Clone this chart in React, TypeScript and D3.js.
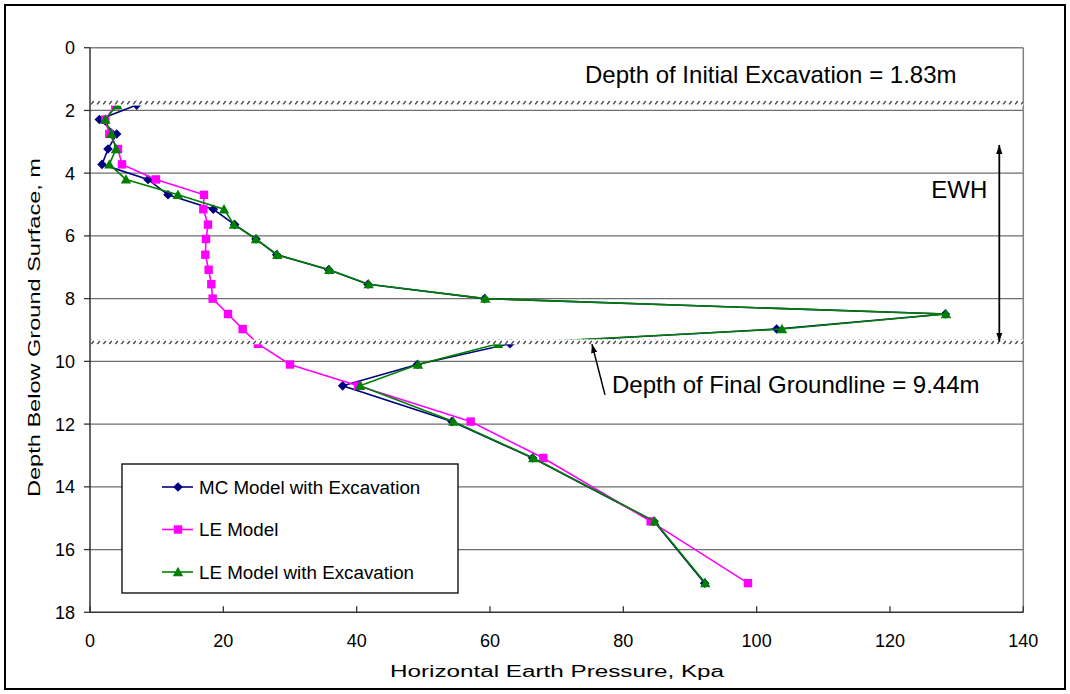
import React from "react";
import * as d3 from "d3";

const depths = [1.83, 2.29, 2.75, 3.23, 3.72, 4.2, 4.69, 5.15, 5.64, 6.1, 6.6, 7.08, 7.54, 8.0, 8.49, 8.97, 9.44, 10.1, 10.78, 11.92, 13.08, 15.1, 17.07];
const mcValues = [7.0, 1.4, 4.0, 2.7, 1.8, 8.7, 11.7, 18.5, 21.7, 24.9, 28.0, 35.8, 41.7, 59.2, 128.3, 103.0, 63.0, 49.1, 37.9, 54.3, 66.4, 84.6, 92.2];
const leValues = [3.8, 2.3, 2.9, 4.2, 4.8, 9.9, 17.1, 17.0, 17.7, 17.4, 17.3, 17.8, 18.2, 18.4, 20.7, 22.9, 25.2, 30.0, 40.2, 57.1, 68.0, 84.1, 98.7];
const leExcValues = [4.1, 2.3, 3.2, 3.9, 2.9, 5.4, 13.2, 20.1, 21.6, 24.9, 28.1, 35.9, 41.8, 59.3, 128.4, 103.8, 61.2, 49.2, 40.5, 54.5, 66.5, 84.7, 92.3];

const xTicks = [0, 20, 40, 60, 80, 100, 120, 140];
const yTicks = [0, 2, 4, 6, 8, 10, 12, 14, 16, 18];
const excavationDepths = [1.83, 9.44];
const seriesNames = ["MC Model with Excavation", "LE Model", "LE Model with Excavation"];

const W = 1070;
const H = 694;
const FONT = "'Liberation Sans', Arial, sans-serif";

const x = d3.scaleLinear().domain([0, 140]).range([90, 1023.3]);
const y = d3.scaleLinear().domain([0, 18]).range([47.7, 612.3]);

type Series = { name: string; values: number[]; color: string; marker: "diamond" | "square" | "triangle" };
const series: Series[] = [
  { name: seriesNames[0], values: mcValues, color: "#000080", marker: "diamond" },
  { name: seriesNames[1], values: leValues, color: "#FF00FF", marker: "square" },
  { name: seriesNames[2], values: leExcValues, color: "#008000", marker: "triangle" },
];

function Marker({ kind, cx, cy, color }: { kind: string; cx: number; cy: number; color: string }) {
  if (kind === "diamond") {
    const r = 4.8;
    return <path d={`M${cx},${cy - r}L${cx + r},${cy}L${cx},${cy + r}L${cx - r},${cy}Z`} fill={color} />;
  }
  if (kind === "square") {
    const r = 4.2;
    return <rect x={cx - r} y={cy - r} width={2 * r} height={2 * r} fill={color} />;
  }
  const r = 5.2;
  return <path d={`M${cx},${cy - r}L${cx + r},${cy + r * 0.8}L${cx - r},${cy + r * 0.8}Z`} fill={color} />;
}

export default function App() {
  const line = d3
    .line<[number, number]>()
    .x((d) => x(d[0]))
    .y((d) => y(d[1]));

  const x0 = x(0);
  const x1 = x(140);
  const y0 = y(0);
  const y1 = y(18);

  const legendX = 122;
  const legendY = 464;
  const legendW = 336;
  const legendH = 129;

  return (
    <svg
      width={W}
      height={H}
      style={{ position: "absolute", left: 0, top: 0, background: "#fff" }}
      fontFamily={FONT}
    >
      <defs>
        <pattern id="hatch" width="6" height="5" patternUnits="userSpaceOnUse">
          <rect width="6" height="5" fill="#fff" />
          <path d="M1.2,4.4L3.8,0.8" stroke="#444" strokeWidth="1.4" />
        </pattern>
        <marker id="arrowHead" viewBox="0 0 10 10" refX="10" refY="5" markerWidth="9" markerHeight="9" orient="auto-start-reverse" markerUnits="userSpaceOnUse">
          <path d="M0,1.5L10,5L0,8.5Z" fill="#000" />
        </marker>
      </defs>
      <rect x={0} y={0} width={W} height={H} fill="#fff" />
      <rect x={5} y={5} width={1060} height={684} fill="none" stroke="#000" strokeWidth={2} />

      {/* gridlines */}
      {yTicks.filter((t) => t > 0 && t < 18).map((t) => (
        <line key={"g" + t} x1={x0} x2={x1} y1={y(t)} y2={y(t)} stroke="#6e6e6e" strokeWidth={1.3} />
      ))}
      <line x1={x0} x2={x1} y1={y0} y2={y0} stroke="#808080" strokeWidth={1.5} />
      <line x1={x1} x2={x1} y1={y0} y2={y1} stroke="#808080" strokeWidth={1.5} />

      {/* axes */}
      <line x1={x0} x2={x0} y1={y0} y2={y1} stroke="#333" strokeWidth={1.5} />
      <line x1={x0} x2={x1} y1={y1} y2={y1} stroke="#333" strokeWidth={1.5} />
      {yTicks.map((t) => (
        <g key={"yt" + t}>
          <line x1={x0 - 6} x2={x0} y1={y(t)} y2={y(t)} stroke="#333" strokeWidth={1.3} />
          <text x={x0 - 15} y={y(t)} dy="0.36em" textAnchor="end" fontSize={18} fill="#000">
            {t}
          </text>
        </g>
      ))}
      {xTicks.map((t) => (
        <g key={"xt" + t}>
          <line x1={x(t)} x2={x(t)} y1={y1 - 6} y2={y1} stroke="#333" strokeWidth={1.3} />
          <text x={x(t)} y={y1 + 35} textAnchor="middle" fontSize={18} fill="#000">
            {t}
          </text>
        </g>
      ))}
      <text x={390} y={677} fontSize={16} fill="#000" textLength={334} lengthAdjust="spacingAndGlyphs">
        Horizontal Earth Pressure, Kpa
      </text>
      <text transform="translate(40,497) rotate(-90)" fontSize={16} fill="#000" textLength={339} lengthAdjust="spacingAndGlyphs">
        Depth Below Ground Surface, m
      </text>

      {/* series */}
      {series.map((s) => (
        <g key={s.name}>
          <path d={line(s.values.map((v, i) => [v, depths[i]] as [number, number])) || ""} fill="none" stroke={s.color} strokeWidth={1.6} />
          {s.values.map((v, i) => (
            <Marker key={i} kind={s.marker} cx={x(v)} cy={y(depths[i])} color={s.color} />
          ))}
        </g>
      ))}

      {/* hatched excavation bands */}
      {excavationDepths.map((d) => (
        <rect key={"b" + d} x={x0 + 1} y={y(d) - 4.5} width={x1 - x0 - 1} height={5} fill="url(#hatch)" />
      ))}

      {/* annotations */}
      <text x={x(74.25)} y={y(1.125)} fontSize={24} fill="#000">
        Depth of Initial Excavation = 1.83m
      </text>
      <text x={x(126.2)} y={y(4.79)} fontSize={24} fill="#000">
        EWH
      </text>
      <line
        x1={x(136.4)}
        x2={x(136.4)}
        y1={y(3.1)}
        y2={y(9.37)}
        stroke="#000"
        strokeWidth={1.8}
        markerStart="url(#arrowHead)"
        markerEnd="url(#arrowHead)"
      />
      <line x1={x(77.25)} y1={y(11.07)} x2={x(75.3)} y2={y(9.45)} stroke="#000" strokeWidth={1.5} markerEnd="url(#arrowHead)" />
      <text x={x(78.3)} y={y(11.0)} fontSize={24} fill="#000">
        Depth of Final Groundline = 9.44m
      </text>

      {/* legend */}
      <rect x={legendX} y={legendY} width={legendW} height={legendH} fill="#fff" stroke="#000" strokeWidth={1.3} />
      {series.map((s, i) => {
        const ly = 487 + i * 42.5;
        return (
          <g key={"l" + s.name}>
            <line x1={162} x2={193} y1={ly} y2={ly} stroke={s.color} strokeWidth={1.6} />
            <Marker kind={s.marker} cx={178} cy={ly} color={s.color} />
            <text x={199} y={ly} dy="0.36em" fontSize={18.8} fill="#000">
              {s.name}
            </text>
          </g>
        );
      })}
    </svg>
  );
}
